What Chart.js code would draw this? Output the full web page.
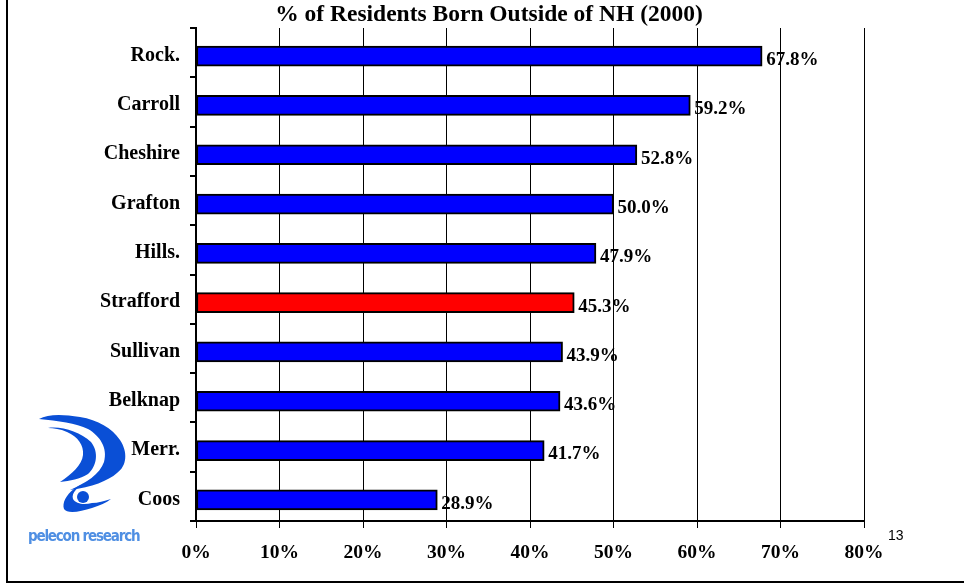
<!DOCTYPE html>
<html>
<head>
<meta charset="utf-8">
<script src="https://cdn.jsdelivr.net/npm/chart.js@4.4.1/dist/chart.umd.min.js"></script>
<style>
  html, body { margin: 0; padding: 0; background: #fff; }
  #wrap { position: relative; width: 964px; height: 584px; overflow: hidden; }
  #chart { position: absolute; left: 0; top: 0; }
  #frame { position: absolute; left: 6px; top: -2px; width: 970px; height: 585px;
           border-left: 2px solid #000; border-bottom: 2px solid #000; box-sizing: border-box; }
  #page { position: absolute; left: 888px; top: 527px; font: 14px "Liberation Sans", Arial, sans-serif; color: #000; }
  #logo { position: absolute; left: 0; top: 400px; }
  #logoText { position: absolute; left: 28px; top: 527px; font: bold 15px "DejaVu Sans Condensed", "DejaVu Sans", sans-serif;
              color: #4f8fe3; letter-spacing: -1.2px; }
</style>
</head>
<body>
<div id="wrap">
  <canvas id="chart" width="964" height="584"></canvas>
  <svg id="logo" width="150" height="130" viewBox="0 400 150 130">
    <path fill="#0a4fd6" d="M39,419 C48,414 62,414 80,417 C98,420 112,428 120,440 C128,452 127,466 117,473 C108,481 92,487 70,490 C86,483 100,474 104,462 C108,448 100,436 88,429 C76,423 58,421 39,419 Z"/>
    <path fill="#0a4fd6" d="M48,428 C62,426 80,432 91,442 C99,452 97,466 88,474 C80,479 70,481 60,482 C72,474 82,465 83,455 C84,445 78,437 67,432 C60,429 54,428 48,428 Z"/>
    <path fill="#0a4fd6" d="M102,475 C92,480 80,484 74,489 C66,495 62,503 64,509 C67,514 80,512 92,508 C100,505 106,503 111,499 C104,501 98,503 92,503 C84,505 76,504 73,499 C71,493 78,486 88,481 C94,478 99,477 102,475 Z"/>
    <circle fill="#0a4fd6" cx="83" cy="497" r="6"/>
  </svg>
  <div id="logoText">pelecon research</div>
  <div id="page">13</div>
  <div id="frame"></div>
</div>
<script>
const counties = ['Rock.', 'Carroll', 'Cheshire', 'Grafton', 'Hills.', 'Strafford', 'Sullivan', 'Belknap', 'Merr.', 'Coos'];
const bornOutside = [67.8, 59.2, 52.8, 50.0, 47.9, 45.3, 43.9, 43.6, 41.7, 28.9];
const highlight = 'Strafford';
const xTicks = [0, 10, 20, 30, 40, 50, 60, 70, 80];
const titleText = '% of Residents Born Outside of NH (2000)';

const serif = "'Liberation Serif', 'Times New Roman', serif";

// bars sit a little below the category centre in the original
const shiftBars = {
  id: 'shiftBars',
  beforeDatasetsDraw(chart) {
    chart.ctx.save();
    chart.ctx.translate(0, 3.5);
  },
  afterDatasetsDraw(chart) {
    const ctx = chart.ctx;
    const meta = chart.getDatasetMeta(0);
    ctx.fillStyle = '#000';
    ctx.font = 'bold 19px ' + serif;
    ctx.textAlign = 'left';
    ctx.textBaseline = 'middle';
    meta.data.forEach((bar, i) => {
      ctx.fillText(bornOutside[i].toFixed(1) + '%', bar.x + 4, bar.y + 4);
    });
    ctx.restore();
  }
};

const titlePlugin = {
  id: 'titlePlugin',
  afterDraw(chart) {
    const ctx = chart.ctx;
    ctx.save();
    ctx.fillStyle = '#000';
    ctx.font = 'bold 23.5px ' + serif;
    ctx.textAlign = 'center';
    ctx.textBaseline = 'middle';
    ctx.fillText(titleText, 489, 15);
    ctx.restore();
  }
};

new Chart(document.getElementById('chart'), {
  type: 'bar',
  data: {
    labels: counties,
    datasets: [{
      data: bornOutside,
      backgroundColor: counties.map((c) => (c === highlight ? '#ff0000' : '#0000ff')),
      borderColor: '#000',
      borderWidth: 2,
      borderSkipped: false,
      barThickness: 20
    }]
  },
  options: {
    indexAxis: 'y',
    responsive: false,
    animation: false,
    layout: { padding: { top: 28, right: 100, left: 0, bottom: 0 } },
    plugins: { legend: { display: false }, title: { display: false }, tooltip: { enabled: false } },
    scales: {
      x: {
        min: 0,
        max: 80,
        afterBuildTicks: (s) => { s.ticks = xTicks.map((v) => ({ value: v })); },
        afterFit: (s) => { s.height = 63; },
        grid: { color: '#000', lineWidth: 1, tickLength: 7, drawTicks: true },
        border: { color: '#000', width: 2 },
        ticks: {
          color: '#000',
          padding: 13,
          maxRotation: 0,
          font: { family: serif, size: 19.5, weight: 'bold' },
          callback: (v) => v + '%'
        }
      },
      y: {
        afterFit: (s) => { s.width = 196; },
        grid: { drawOnChartArea: false, color: '#000', lineWidth: 2, tickLength: 6 },
        border: { color: '#000', width: 2 },
        ticks: {
          color: '#000',
          padding: 10,
          labelOffset: 3,
          font: { family: serif, size: 20, weight: 'bold' }
        }
      }
    }
  },
  plugins: [shiftBars, titlePlugin]
});
</script>
</body>
</html>
